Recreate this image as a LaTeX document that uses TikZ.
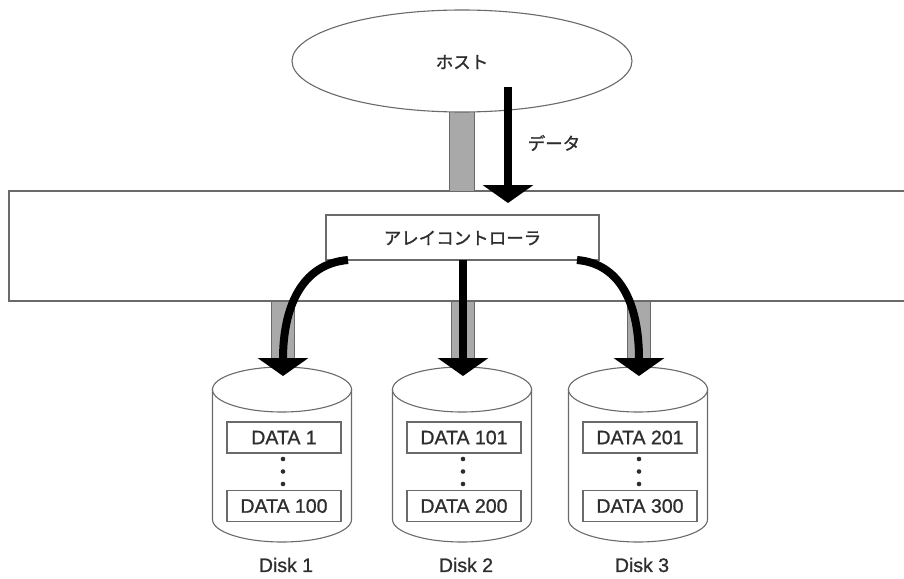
\documentclass[tikz,border=0pt]{standalone}
\usepackage{fontspec}
\setmainfont{Liberation Sans}
\newfontfamily\jp[FakeBold=1.3]{Noto Sans CJK JP}
\newfontfamily\lat[FakeBold=1.0]{Liberation Sans}
\usetikzlibrary{arrows.meta,shapes.geometric}
\definecolor{ink}{HTML}{2E2E2E}
\definecolor{edge}{HTML}{6A6A6A}
\definecolor{pillar}{HTML}{A9A9A9}
\tikzset{
  outline/.style={draw=edge, line width=1.1pt},
  column/.style={draw=edge, line width=0.9pt, fill=pillar},
  jptext/.style={text=ink, font=\jp\fontsize{17.5}{20}\selectfont},
  entext/.style={text=ink, font=\lat\fontsize{19.5}{22}\selectfont},
  databox/.style={outline, fill=white, minimum width=114pt, minimum height=31pt,
    inner sep=0pt, entext},
  flow/.style={draw=black, line width=8pt,
    -{Triangle[width=50pt,length=18pt]}},
}
\begin{document}
\begin{tikzpicture}[x=1pt,y=-1pt]
\useasboundingbox (0,0) rectangle (904,578);
\begin{scope}
\clip (0,0) rectangle (904,578);

% bus band holding the array controller
\draw[outline] (920,191) -- (9,191) -- (9,301) -- (920,301);

% host link
\draw[column] (449,100) rectangle (474,191);

% host
\node[ellipse, outline, fill=white, minimum width=340pt, minimum height=102pt,
  inner sep=0pt] (host) at (462,61) {};
\node[jptext] (hostlabel) at (462,62) {ホスト};

% array controller
\node[outline, fill=white, minimum width=273pt, minimum height=45pt,
  inner sep=0pt] (ctrl) at (462.5,237.5) {};
\node[jptext] (ctrllabel) at (462.5,238) {アレイコントローラ};

% disks
\foreach \i/\cx/\lo/\hi in {1/282/1/100, 2/462/101/200, 3/638/201/300} {
  \draw[column] (\cx-11,301) rectangle (\cx+12,380);
  \draw[outline, fill=white]
    (\cx-69.5,389.5) -- (\cx-69.5,519.5)
    arc[start angle=180, end angle=0, x radius=69.5, y radius=22.5]
    -- (\cx+69.5,389.5) -- cycle;
  \draw[outline, fill=white] (\cx,389.5) ellipse[x radius=69.5, y radius=22.5];
  \coordinate (top\i) at (\cx+1,376);
  \node[databox] (first\i) at (\cx+2,437.5) {DATA \lo};
  \node[databox] (last\i) at (\cx+2,506) {DATA \hi};
  \foreach \y in {459,471.5,484}
    \fill[ink] (\cx+1,\y) circle[radius=2.3];
  \node[entext] (disk\i) at (\cx+4,565) {Disk \i};
}

% data flow
\coordinate (hoststart) at (508,87);
\coordinate (hostend) at (508,203);
\draw[flow] (hoststart) -- (hostend);
\node[jptext] (datalabel) at (554,143) {データ};

\coordinate (splitL) at (348,260);
\coordinate (splitM) at (463,260);
\coordinate (splitR) at (577,260);
\draw[flow] (splitL) .. controls (300,264) and (283,310) .. (top1);
\draw[flow] (splitM) -- (top2);
\draw[flow] (splitR) .. controls (624,264) and (639,310) .. (top3);
\end{scope}
\end{tikzpicture}
\end{document}
